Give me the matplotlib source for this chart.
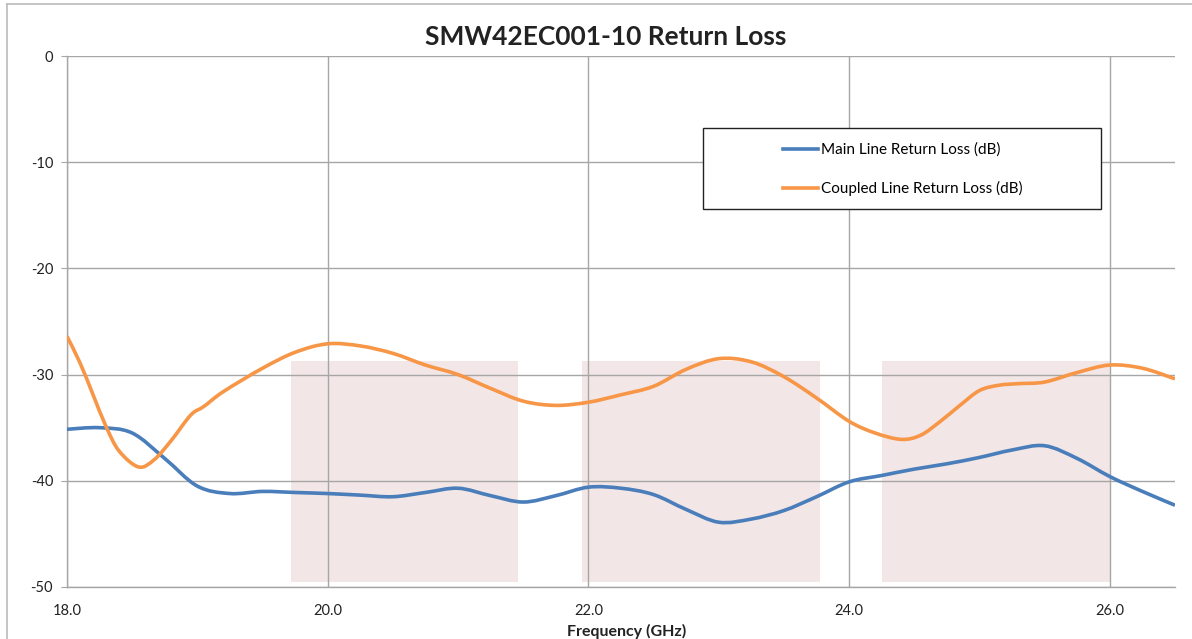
import matplotlib
matplotlib.use("Agg")
import numpy as np
import matplotlib.pyplot as plt
from matplotlib.patches import Rectangle, PathPatch
from matplotlib.path import Path
from matplotlib.lines import Line2D

plt.rcParams["font.family"] = ["Lato", "DejaVu Sans"]

# frequency (GHz) and return loss (dB)
main_freq = [18.0, 18.25, 18.5, 18.75, 19.0, 19.25, 19.5, 19.75, 20.0,
             20.25, 20.5, 20.75, 21.0, 21.25, 21.5, 21.75, 22.0, 22.25, 22.5,
             22.75, 23.0, 23.25, 23.5, 23.75, 24.0, 24.25, 24.5, 24.75, 25.0,
             25.25, 25.5, 25.75, 26.0, 26.25, 26.5]
main_rl = [-35.15, -35.0, -35.5, -37.9, -40.5, -41.2, -41.0, -41.1, -41.2,
           -41.35, -41.5, -41.1, -40.7, -41.4, -42.0, -41.4, -40.6, -40.7, -41.3,
           -42.7, -43.9, -43.6, -42.8, -41.5, -40.1, -39.5, -38.9, -38.4, -37.8,
           -37.1, -36.7, -37.9, -39.6, -41.0, -42.3]

coupled_freq = [18.0, 18.1, 18.2, 18.3, 18.4, 18.55, 18.67, 18.8, 18.95, 19.05,
                19.2, 19.5, 19.75, 20.0, 20.25, 20.5, 20.75, 21.0, 21.25, 21.5,
                21.75, 22.0, 22.25, 22.5, 22.75, 23.0, 23.25, 23.5, 23.75, 24.0,
                24.2, 24.4, 24.55, 24.7, 24.85, 25.0, 25.15, 25.3, 25.5, 25.75,
                26.0, 26.25, 26.5]
coupled_rl = [-26.4, -28.9, -31.9, -34.9, -37.2, -38.7, -38.0, -36.2, -33.8, -33.0,
              -31.6, -29.4, -27.9, -27.1, -27.3, -28.0, -29.1, -30.0, -31.3, -32.5,
              -32.9, -32.6, -31.9, -31.1, -29.5, -28.5, -28.8, -30.2, -32.2, -34.4,
              -35.5, -36.1, -35.7, -34.4, -32.9, -31.5, -31.0, -30.85, -30.7, -29.8,
              -29.1, -29.4, -30.4]

# faint shaded bands behind the curves: (start GHz, end GHz), dB top/bottom
band_spans = [(19.72, 21.46), (21.95, 23.78), (24.25, 26.0)]
band_top, band_bottom = -28.7, -49.5

x_ticks = [18.0, 20.0, 22.0, 24.0, 26.0]
y_ticks = [0, -10, -20, -30, -40, -50]

BLUE = "#4a7ebb"
ORANGE = "#f79646"
GRID = "#a6a6a6"
TEXT = "#222222"


def smooth_path(xs, ys):
    # Excel-style smoothed line: cubic Bezier segments through the data points
    pts = np.column_stack([xs, ys])
    n = len(pts)
    verts = [pts[0]]
    codes = [Path.MOVETO]
    for i in range(n - 1):
        p0 = pts[i - 1] if i > 0 else pts[i]
        p1, p2 = pts[i], pts[i + 1]
        p3 = pts[i + 2] if i + 2 < n else pts[i + 1]
        verts += [p1 + (p2 - p0) / 6, p2 - (p3 - p1) / 6, p2]
        codes += [Path.CURVE4] * 3
    return Path(verts, codes)


fig = plt.figure(figsize=(11.92, 6.39), dpi=100)
ax = fig.add_axes([67 / 1192, 1 - 587 / 639, 1108 / 1192, 531 / 639])

for start, end in band_spans:
    ax.add_patch(Rectangle((start, band_bottom), end - start, band_top - band_bottom,
                           facecolor="#f3e6e6", edgecolor="none", zorder=0))

for xs, ys, color in [(main_freq, main_rl, BLUE), (coupled_freq, coupled_rl, ORANGE)]:
    ax.add_patch(PathPatch(smooth_path(xs, ys), fill=False, edgecolor=color, lw=2.6,
                           capstyle="butt", joinstyle="round", zorder=3))

ax.set_xlim(18.0, 26.5)
ax.set_ylim(-50, 0)
ax.set_xticks(x_ticks)
ax.set_xticklabels([f"{t:.1f}" for t in x_ticks])
ax.set_yticks(y_ticks)
ax.set_yticklabels([str(t) for t in y_ticks])
ax.grid(True, color=GRID, lw=1.0, zorder=1)
ax.set_axisbelow(True)

for side in ("top", "right"):
    ax.spines[side].set_visible(False)
for side in ("left", "bottom"):
    ax.spines[side].set_color(GRID)
    ax.spines[side].set_linewidth(1.0)

ax.tick_params(axis="y", length=4, color=GRID, labelsize=10.5, pad=6, labelcolor=TEXT)
ax.tick_params(axis="x", length=0, labelsize=10.5, pad=12, labelcolor=TEXT)

fig.text(606 / 1192, 1 - 37 / 639, "SMW42EC001-10 Return Loss", fontsize=19,
         fontweight="bold", color=TEXT, ha="center", va="center")
fig.text(627 / 1192, 1 - 631 / 639, "Frequency (GHz)", fontsize=11.5,
         fontweight="bold", color=TEXT, ha="center", va="center")

# legend frame drawn separately so its padding can differ on each side
lx0, lx1 = (703 - 67) / 1108, (1101 - 67) / 1108
ly0, ly1 = (587 - 209) / 531, (587 - 128) / 531
ax.add_patch(Rectangle((lx0, ly0), lx1 - lx0, ly1 - ly0, transform=ax.transAxes,
                       facecolor="white", edgecolor=TEXT, lw=1.0, zorder=4))
handles = [Line2D([], [], color=BLUE, lw=2.6), Line2D([], [], color=ORANGE, lw=2.6)]
leg = ax.legend(handles, ["Main Line Return Loss (dB)", "Coupled Line Return Loss (dB)"],
                loc="center", bbox_to_anchor=((lx0 + lx1) / 2 + 0.001, (ly0 + ly1) / 2 - 0.002),
                frameon=False, fontsize=11, handlelength=2.3, handletextpad=0.2,
                labelspacing=1.6, borderpad=0)
leg.set_zorder(5)

# chart-area border (left and top edges visible in the reference)
fig.add_artist(Line2D([7 / 1192, 7 / 1192], [0, 1 - 4 / 639], color="#bbbbbb", lw=1.2))
fig.add_artist(Line2D([7 / 1192, 1], [1 - 4 / 639, 1 - 4 / 639], color="#bbbbbb", lw=1.2))

fig.savefig("out.png", dpi=100)
